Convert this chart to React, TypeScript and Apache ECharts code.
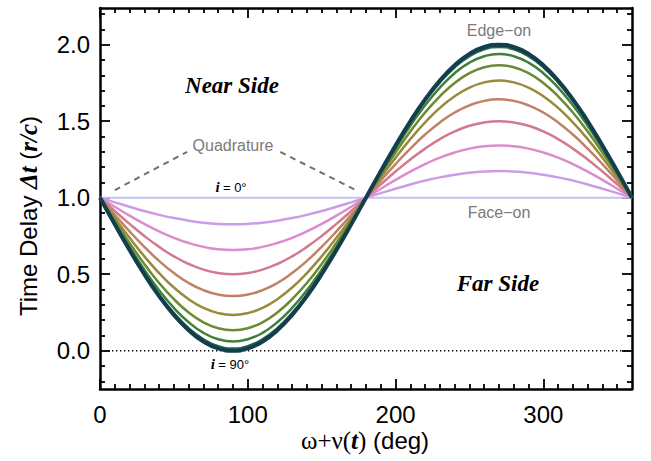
import React, { useEffect, useRef } from "react";
import * as echarts from "echarts";

const angles = [0, 10, 20, 30, 40, 50, 60, 70, 80, 90, 100, 110, 120, 130, 140, 150, 160, 170, 180, 190, 200, 210, 220, 230, 240, 250, 260, 270, 280, 290, 300, 310, 320, 330, 340, 350, 360];

const inclinations = [0, 10, 20, 30, 40, 50, 60, 70, 80, 90];

const delayI0 = [1, 1, 1, 1, 1, 1, 1, 1, 1, 1, 1, 1, 1, 1, 1, 1, 1, 1, 1, 1, 1, 1, 1, 1, 1, 1, 1, 1, 1, 1, 1, 1, 1, 1, 1, 1, 1];
const delayI10 = [1, .970, .941, .913, .888, .867, .850, .837, .829, .826, .829, .837, .850, .867, .888, .913, .941, .970, 1, 1.030, 1.059, 1.087, 1.112, 1.133, 1.150, 1.163, 1.171, 1.174, 1.171, 1.163, 1.150, 1.133, 1.112, 1.087, 1.059, 1.030, 1];
const delayI20 = [1, .941, .883, .829, .780, .738, .704, .679, .663, .658, .663, .679, .704, .738, .780, .829, .883, .941, 1, 1.059, 1.117, 1.171, 1.220, 1.262, 1.296, 1.321, 1.337, 1.342, 1.337, 1.321, 1.296, 1.262, 1.220, 1.171, 1.117, 1.059, 1];
const delayI30 = [1, .913, .829, .750, .679, .617, .567, .530, .508, .500, .508, .530, .567, .617, .679, .750, .829, .913, 1, 1.087, 1.171, 1.250, 1.321, 1.383, 1.433, 1.470, 1.492, 1.500, 1.492, 1.470, 1.433, 1.383, 1.321, 1.250, 1.171, 1.087, 1];
const delayI40 = [1, .888, .780, .679, .587, .508, .443, .396, .367, .357, .367, .396, .443, .508, .587, .679, .780, .888, 1, 1.112, 1.220, 1.321, 1.413, 1.492, 1.557, 1.604, 1.633, 1.643, 1.633, 1.604, 1.557, 1.492, 1.413, 1.321, 1.220, 1.112, 1];
const delayI50 = [1, .867, .738, .617, .508, .413, .337, .280, .246, .234, .246, .280, .337, .413, .508, .617, .738, .867, 1, 1.133, 1.262, 1.383, 1.492, 1.587, 1.663, 1.720, 1.754, 1.766, 1.754, 1.720, 1.663, 1.587, 1.492, 1.383, 1.262, 1.133, 1];
const delayI60 = [1, .850, .704, .567, .443, .337, .250, .186, .147, .134, .147, .186, .250, .337, .443, .567, .704, .850, 1, 1.150, 1.296, 1.433, 1.557, 1.663, 1.750, 1.814, 1.853, 1.866, 1.853, 1.814, 1.750, 1.663, 1.557, 1.433, 1.296, 1.150, 1];
const delayI70 = [1, .837, .679, .530, .396, .280, .186, .117, .075, .060, .075, .117, .186, .280, .396, .530, .679, .837, 1, 1.163, 1.321, 1.470, 1.604, 1.720, 1.814, 1.883, 1.925, 1.940, 1.925, 1.883, 1.814, 1.720, 1.604, 1.470, 1.321, 1.163, 1];
const delayI80 = [1, .829, .663, .508, .367, .246, .147, .075, .030, .015, .030, .075, .147, .246, .367, .508, .663, .829, 1, 1.171, 1.337, 1.492, 1.633, 1.754, 1.853, 1.925, 1.970, 1.985, 1.970, 1.925, 1.853, 1.754, 1.633, 1.492, 1.337, 1.171, 1];
const delayI90 = [1, .826, .658, .500, .357, .234, .134, .060, .015, 0, .015, .060, .134, .234, .357, .500, .658, .826, 1, 1.174, 1.342, 1.500, 1.643, 1.766, 1.866, 1.940, 1.985, 2, 1.985, 1.940, 1.866, 1.766, 1.643, 1.500, 1.342, 1.174, 1];

const delays = [delayI0, delayI10, delayI20, delayI30, delayI40, delayI50, delayI60, delayI70, delayI80, delayI90];

const curveColors = ["#c4c4f2", "#cc9ce6", "#da8ccc", "#d27a90", "#c08262", "#9a8a3c", "#6c8a32", "#3e803a", "#24684a", "#123e4e"];
const curveWidths = [2.2, 2.5, 2.5, 2.5, 2.5, 2.5, 2.5, 2.5, 2.5, 4];

// Quadrature guide lines (data coords)
const quadLeft = [[10, 1.05], [59, 1.3]];
const quadRight = [[122, 1.3], [173, 1.05]];
const zeroLine = [[0, 0], [360, 0]];

const xMajor = [0, 100, 200, 300];
const xMinor = [10, 20, 30, 40, 50, 60, 70, 80, 90, 110, 120, 130, 140, 150, 160, 170, 180, 190, 210, 220, 230, 240, 250, 260, 270, 280, 290, 310, 320, 330, 340, 350];
const yMajor = [0, 0.5, 1, 1.5, 2];
const yMinor = [-0.2, -0.1, 0.1, 0.2, 0.3, 0.4, 0.6, 0.7, 0.8, 0.9, 1.1, 1.2, 1.3, 1.4, 1.6, 1.7, 1.8, 1.9, 2.1, 2.2];

const X_MIN = 0, X_MAX = 360, Y_MIN = -0.25, Y_MAX = 2.24;

const SANS = "'Liberation Sans', Arial, Helvetica, sans-serif";
const SERIF = "'Liberation Serif', 'Times New Roman', serif";

export default function App() {
  const ref = useRef<HTMLDivElement>(null);
  useEffect(() => {
    if (!ref.current) return;
    const chart = echarts.init(ref.current, null, { renderer: "svg" });

    const mkX = (pos: string, values: number[], len: number, labels: boolean, line: boolean) => ({
      type: "value",
      position: pos,
      min: X_MIN,
      max: X_MAX,
      axisLine: { show: line, onZero: false, lineStyle: { color: "#000", width: 2.5 } },
      axisTick: { show: true, inside: true, length: len, customValues: values, lineStyle: { color: "#000", width: 1.8 } },
      axisLabel: labels
        ? { show: true, customValues: values, fontSize: 24, fontFamily: SANS, color: "#000", margin: 13 }
        : { show: false },
      splitLine: { show: false },
    });
    const mkY = (pos: string, values: number[], len: number, labels: boolean, line: boolean) => ({
      type: "value",
      position: pos,
      min: Y_MIN,
      max: Y_MAX,
      axisLine: { show: line, onZero: false, lineStyle: { color: "#000", width: 2.5 } },
      axisTick: { show: true, inside: true, length: len, customValues: values, lineStyle: { color: "#000", width: 1.8 } },
      axisLabel: labels
        ? { show: true, customValues: values, fontSize: 24, fontFamily: SANS, color: "#000", margin: 10, formatter: (v: number) => v.toFixed(1) }
        : { show: false },
      splitLine: { show: false },
    });

    const curveSeries = inclinations.map((inc, k) => ({
      name: "i = " + inc + "°",
      type: "line",
      xAxisIndex: 0,
      yAxisIndex: 0,
      data: angles.map((a, j) => [a, delays[k][j]]),
      smooth: true,
      symbol: "none",
      lineStyle: { color: curveColors[k], width: curveWidths[k] },
      z: 3 + k,
    }));

    const option: any = {
      animation: false,
      backgroundColor: "#fff",
      grid: { left: 100, right: 19, top: 8, bottom: 72, containLabel: false },
      xAxis: [
        mkX("bottom", xMajor, 10, true, true),
        mkX("bottom", xMinor, 5, false, false),
        mkX("top", xMajor, 10, false, true),
        mkX("top", xMinor, 5, false, false),
      ],
      yAxis: [
        mkY("left", yMajor, 10, true, true),
        mkY("left", yMinor, 5, false, false),
        mkY("right", yMajor, 10, false, true),
        mkY("right", yMinor, 5, false, false),
      ],
      series: [
        {
          type: "line",
          data: zeroLine,
          symbol: "none",
          lineStyle: { color: "#000", width: 1.3, type: [1.3, 2.7] },
          z: 2,
        },
        {
          type: "line",
          data: quadLeft,
          symbol: "none",
          lineStyle: { color: "#707070", width: 2, type: [6, 5] },
          z: 2,
        },
        {
          type: "line",
          data: quadRight,
          symbol: "none",
          lineStyle: { color: "#707070", width: 2, type: [6, 5] },
          z: 2,
        },
        ...curveSeries,
      ],
      graphic: [
        {
          type: "text",
          x: 232, y: 85,
          style: { text: "Near Side", font: `italic bold 23px ${SERIF}`, fill: "#000", align: "center", verticalAlign: "middle" },
        },
        {
          type: "text",
          x: 498, y: 283,
          style: { text: "Far Side", font: `italic bold 23px ${SERIF}`, fill: "#000", align: "center", verticalAlign: "middle" },
        },
        {
          type: "text",
          x: 233, y: 145,
          style: { text: "Quadrature", font: `16px ${SANS}`, fill: "#7a7a7a", align: "center", verticalAlign: "middle" },
        },
        {
          type: "text",
          x: 499, y: 30,
          style: { text: "Edge\u2212on", font: `16px ${SANS}`, fill: "#7a7a7a", align: "center", verticalAlign: "middle" },
        },
        {
          type: "text",
          x: 499, y: 212,
          style: { text: "Face\u2212on", font: `16px ${SANS}`, fill: "#7a7a7a", align: "center", verticalAlign: "middle" },
        },
        {
          type: "text",
          x: 231, y: 187,
          style: {
            text: "{i|i} {n|= 0°}",
            align: "center", verticalAlign: "middle", fill: "#000",
            rich: {
              i: { fontFamily: SERIF, fontStyle: "italic", fontWeight: "bold", fontSize: 15, fill: "#000" },
              n: { fontFamily: SANS, fontSize: 13, fill: "#000" },
            },
          },
        },
        {
          type: "text",
          x: 230, y: 364,
          style: {
            text: "{i|i} {n|= 90°}",
            align: "center", verticalAlign: "middle", fill: "#000",
            rich: {
              i: { fontFamily: SERIF, fontStyle: "italic", fontWeight: "bold", fontSize: 15, fill: "#000" },
              n: { fontFamily: SANS, fontSize: 13, fill: "#000" },
            },
          },
        },
        {
          type: "text",
          x: 365, y: 440,
          style: {
            text: "{g|ω+ν(}{t|t}{g|)}{s| (deg)}",
            align: "center", verticalAlign: "middle", fill: "#000",
            rich: {
              g: { fontFamily: SERIF, fontSize: 25, fill: "#000" },
              t: { fontFamily: SERIF, fontStyle: "italic", fontWeight: "bold", fontSize: 25, fill: "#000" },
              s: { fontFamily: SANS, fontSize: 24, fill: "#000" },
            },
          },
        },
        {
          type: "text",
          x: 28, y: 216,
          rotation: Math.PI / 2,
          style: {
            text: "{s|Time Delay }{b|Δt}{s| (}{b|r/c}{s|)}",
            align: "center", verticalAlign: "middle", fill: "#000",
            rich: {
              s: { fontFamily: SANS, fontSize: 24, fill: "#000" },
              b: { fontFamily: SERIF, fontStyle: "italic", fontWeight: "bold", fontSize: 25, fill: "#000" },
            },
          },
        },
      ],
    };
    chart.setOption(option);
    return () => chart.dispose();
  }, []);
  return <div ref={ref} style={{ position: "fixed", left: 0, top: 0, width: 651, height: 461 }} />;
}
